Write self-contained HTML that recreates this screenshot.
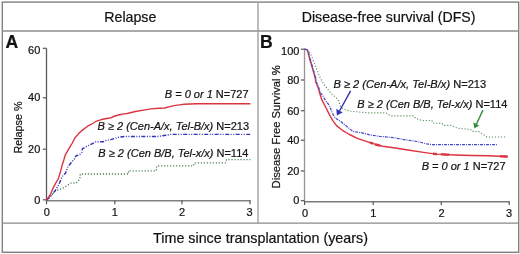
<!DOCTYPE html>
<html><head><meta charset="utf-8"><style>
html,body{margin:0;padding:0;background:#fff;}
body{width:520px;height:254px;overflow:hidden;}
svg{display:block;will-change:transform;}
text{stroke:#1a1a1a;stroke-width:0.22px;font-family:"Liberation Sans",sans-serif;}
</style></head><body>
<svg width="520" height="254" viewBox="0 0 520 254">
<rect x="2.3" y="2.1" width="516.4" height="250.2" fill="none" stroke="#808080" stroke-width="1.4"/>
<line x1="2.3" y1="31" x2="518.7" y2="31" stroke="#8e8e8e" stroke-width="1.4"/>
<line x1="2.3" y1="223.1" x2="518.7" y2="223.1" stroke="#8a8a8a" stroke-width="1.4"/>
<line x1="258" y1="2.1" x2="258" y2="223.1" stroke="#a0a0a0" stroke-width="1.4"/>
<text x="130.3" y="21.8" font-size="14.2" text-anchor="middle" fill="#111">Relapse</text>
<text x="388.6" y="21.7" font-size="14.15" text-anchor="middle" fill="#111">Disease-free survival (DFS)</text>
<text x="260.5" y="243.4" font-size="14.3" text-anchor="middle" fill="#111">Time since transplantation (years)</text>
<text x="5.4" y="47.6" font-size="17.6" font-weight="bold" fill="#111">A</text>
<text x="260" y="47.6" font-size="17.6" font-weight="bold" fill="#111">B</text>
<path d="M46.5 48.3 V200.8" fill="none" stroke="#5a5a5a" stroke-width="1.3"/>
<path d="M46 200.8 H250.6" fill="none" stroke="#808080" stroke-width="1.4"/>
<line x1="42.8" y1="48.3" x2="46.5" y2="48.3" stroke="#555" stroke-width="1.2"/>
<line x1="42.8" y1="97.8" x2="46.5" y2="97.8" stroke="#555" stroke-width="1.2"/>
<line x1="42.8" y1="149.2" x2="46.5" y2="149.2" stroke="#555" stroke-width="1.2"/>
<line x1="42.8" y1="199.8" x2="46.5" y2="199.8" stroke="#555" stroke-width="1.2"/>
<line x1="46.5" y1="200.6" x2="46.5" y2="204.3" stroke="#555" stroke-width="1.2"/>
<line x1="114.8" y1="200.6" x2="114.8" y2="204.3" stroke="#555" stroke-width="1.2"/>
<line x1="181.9" y1="200.6" x2="181.9" y2="204.3" stroke="#555" stroke-width="1.2"/>
<line x1="250" y1="200.6" x2="250" y2="204.3" stroke="#555" stroke-width="1.2"/>
<text x="40.3" y="54.4" font-size="11" text-anchor="end" fill="#111">60</text>
<text x="40.3" y="101.4" font-size="11" text-anchor="end" fill="#111">40</text>
<text x="40.3" y="152.7" font-size="11" text-anchor="end" fill="#111">20</text>
<text x="40.3" y="203.9" font-size="11" text-anchor="end" fill="#111">0</text>
<text x="46.7" y="215.6" font-size="11" text-anchor="middle" fill="#111">0</text>
<text x="114.9" y="215.6" font-size="11" text-anchor="middle" fill="#111">1</text>
<text x="182" y="215.6" font-size="11" text-anchor="middle" fill="#111">2</text>
<text x="249.5" y="215.6" font-size="11" text-anchor="middle" fill="#111">3</text>
<text transform="translate(21.7,127.5) rotate(-90)" font-size="10.8" text-anchor="middle" fill="#111">Relapse %</text>
<path d="M304.5 49.2 V201.8" fill="none" stroke="#959595" stroke-width="1.3"/>
<path d="M304 201.8 H509.6" fill="none" stroke="#7c7c7c" stroke-width="1.4"/>
<line x1="300.8" y1="49.2" x2="304.4" y2="49.2" stroke="#555" stroke-width="1.2"/>
<line x1="300.8" y1="80" x2="304.4" y2="80" stroke="#555" stroke-width="1.2"/>
<line x1="300.8" y1="110.7" x2="304.4" y2="110.7" stroke="#555" stroke-width="1.2"/>
<line x1="300.8" y1="140.2" x2="304.4" y2="140.2" stroke="#555" stroke-width="1.2"/>
<line x1="300.8" y1="171" x2="304.4" y2="171" stroke="#555" stroke-width="1.2"/>
<line x1="300.8" y1="200.7" x2="304.4" y2="200.7" stroke="#555" stroke-width="1.2"/>
<line x1="304.6" y1="201.6" x2="304.6" y2="205" stroke="#555" stroke-width="1.2"/>
<line x1="373.2" y1="201.6" x2="373.2" y2="205" stroke="#555" stroke-width="1.2"/>
<line x1="441.3" y1="201.6" x2="441.3" y2="205" stroke="#555" stroke-width="1.2"/>
<line x1="509.2" y1="201.6" x2="509.2" y2="205" stroke="#555" stroke-width="1.2"/>
<text x="299.4" y="54.5" font-size="11" text-anchor="end" fill="#111">100</text>
<text x="299.4" y="83.6" font-size="11" text-anchor="end" fill="#111">80</text>
<text x="299.4" y="114.5" font-size="11" text-anchor="end" fill="#111">60</text>
<text x="299.4" y="143.9" font-size="11" text-anchor="end" fill="#111">40</text>
<text x="299.4" y="174.5" font-size="11" text-anchor="end" fill="#111">20</text>
<text x="299.4" y="203.9" font-size="11" text-anchor="end" fill="#111">0</text>
<text x="305" y="216.6" font-size="11" text-anchor="middle" fill="#111">0</text>
<text x="373.3" y="216.6" font-size="11" text-anchor="middle" fill="#111">1</text>
<text x="441.6" y="216.6" font-size="11" text-anchor="middle" fill="#111">2</text>
<text x="509" y="216.6" font-size="11" text-anchor="middle" fill="#111">3</text>
<text transform="translate(280,126.9) rotate(-90)" font-size="11.25" text-anchor="middle" fill="#111">Disease Free Survival %</text>
<polyline points="46.5,200.3 48.7,198.3 52.5,194.1 55.4,190.6 59.1,189.8 62.0,188.5 65.0,187.0 68.0,185.0 70.5,183.2 76.3,183.2 78.6,180.4 80.2,177.3 80.2,174.0 128.5,174.0 128.5,170.8 156.3,170.8 156.8,165.8 193.5,165.8 194.3,162.8 225.5,162.8 226.5,159.6 250.4,159.6" fill="none" stroke="#4a8250" stroke-width="1.3" stroke-linejoin="round" stroke-dasharray="1.2 1.8"/>
<polyline points="46.5,200.3 48.7,198.3 52.5,194.1 55.4,190.3 57.7,186.5 59.6,182.7 61.5,178.0 63.0,175.5 65.5,173.2 68.0,166.6 71.3,162.5 73.8,160.0 75.9,156.0 79.4,154.8 81.8,152.4 82.4,148.9 85.3,147.1 88.9,145.3 92.4,143.6 96.0,141.8 103.0,141.8 106.2,140.4 112.3,139.2 118.5,137.3 124.6,136.5 158.5,136.5 161.5,135.8 167.7,135.0 170.8,134.4 250.4,134.4" fill="none" stroke="#3030b8" stroke-width="1.4" stroke-linejoin="round" stroke-dasharray="4 1.5 1 1.5 1 1.5"/>
<polyline points="46.5,200.3 47.3,198.8 50.6,194.1 53.0,188.4 55.4,183.7 58.2,179.0 60.5,171.6 62.2,165.0 63.8,160.0 65.3,154.8 68.8,148.9 72.3,143.0 74.7,138.3 78.2,134.1 81.8,130.6 87.6,126.2 93.5,123.0 95.9,121.3 100.6,119.8 105.3,118.7 111.2,117.7 114.8,116.0 119.5,114.8 124.0,113.9 127.1,113.5 135.3,111.5 143.6,110.1 150.7,108.9 159.0,108.2 164.9,108.0 169.6,106.6 175.5,105.4 179.6,104.9 184.2,104.3 196.5,103.8 250.4,103.8" fill="none" stroke="#dc3340" stroke-width="1.4" stroke-linejoin="round"/>
<polyline points="304.4,49.2 306.5,49.6 307.5,50.6 309.9,59.8 311.7,65.7 313.4,71.6 315.2,78.0 315.8,81.9 318.2,87.8 319.9,93.7 321.7,99.6 322.4,100.9 326.0,107.8 329.5,114.9 333.0,120.8 336.5,125.6 342.4,130.3 349.5,134.5 357.8,138.6 367.2,141.6 376.3,144.7 382.6,146.3 393.6,147.8 409.4,150.2 425.1,152.6 436.1,154.1 455.7,155.0 471.5,155.5 487.2,155.8 499.8,156.3 508.0,156.6" fill="none" stroke="#dc3340" stroke-width="1.4" stroke-linejoin="round"/>
<polyline points="304.4,49.2 307.0,49.5 309.5,52.0 311.1,55.1 313.4,61.0 315.8,66.9 318.2,72.8 319.3,76.0 321.7,80.7 324.7,85.4 327.6,89.0 331.2,93.7 335.9,97.3 338.8,100.8 340.2,106.0 343.5,109.2 350.4,111.2 360.8,112.1 368.8,112.9 386.1,112.9 388.4,114.4 390.7,115.8 413.5,115.8 415.8,118.4 419.2,119.5 421.5,120.5 431.9,120.5 433.1,123.0 442.3,123.6 443.4,125.3 451.5,125.3 454.6,127.2 459.2,128.4 470.8,129.5 471.9,131.3 478.8,131.6 481.1,133.0 484.6,135.3 486.9,137.0 506.5,137.0" fill="none" stroke="#4f8a52" stroke-width="1.15" stroke-linejoin="round" stroke-dasharray="1.1 1.9"/>
<polyline points="304.4,49.2 306.8,49.5 308.0,50.8 310.4,59.8 312.2,65.7 313.9,71.6 315.8,78.0 316.4,81.9 318.8,87.8 320.2,92.5 322.9,96.0 325.8,100.8 328.9,104.9 330.7,109.0 333.3,115.0 335.3,118.0 341.3,122.0 347.2,126.8 353.0,131.5 361.3,132.7 369.6,134.8 379.4,136.3 393.6,137.6 401.5,139.2 417.2,141.5 426.7,143.9 433.0,144.7 496.9,144.7" fill="none" stroke="#4646c8" stroke-width="1.2" stroke-linejoin="round" stroke-dasharray="3 1 1 1"/>
<polyline points="370.0,142.6 370.5,142.7 371.0,142.9 371.5,143.1 372.0,143.2 372.5,143.4 373.0,143.6" fill="none" stroke="#dc3340" stroke-width="2.4"/>
<polyline points="375.0,144.3 375.8,144.5 376.7,144.8 377.5,145.0 378.3,145.2 379.2,145.4 380.0,145.6" fill="none" stroke="#dc3340" stroke-width="2.4"/>
<polyline points="433.0,153.7 433.7,153.8 434.3,153.9 435.0,153.9 435.7,154.0 436.3,154.1 437.0,154.1" fill="none" stroke="#dc3340" stroke-width="2.4"/>
<polyline points="441.0,154.3 442.3,154.4 443.7,154.4 445.0,154.5 446.3,154.6 447.7,154.6 449.0,154.7" fill="none" stroke="#dc3340" stroke-width="2.4"/>
<polyline points="500.0,156.3 501.2,156.4 502.5,156.4 503.8,156.4 505.0,156.5 506.2,156.5 507.5,156.6" fill="none" stroke="#dc3340" stroke-width="2.4"/>
<line x1="350.6" y1="90.8" x2="339.5" y2="111" stroke="#3030b8" stroke-width="1.4"/>
<polygon points="336.9,115.6 336.3,108.8 342.6,112.4" fill="#3030b8"/>
<line x1="482.9" y1="110.1" x2="476.3" y2="124.5" stroke="#358a40" stroke-width="1.4"/>
<polygon points="474.4,128.6 473.3,122.2 479.2,125.4" fill="#358a40"/>
<text x="248.6" y="97.9" font-size="11" text-anchor="end" fill="#111"><tspan font-style="italic">B = 0 or 1</tspan> N=727</text>
<text x="249.0" y="130.0" font-size="11" text-anchor="end" fill="#111"><tspan font-style="italic">B ≥ 2 (Cen-A/x, Tel-B/x)</tspan> N=213</text>
<text x="248.4" y="157.2" font-size="11" text-anchor="end" fill="#111"><tspan font-style="italic">B ≥ 2 (Cen B/B, Tel-x/x)</tspan> N=114</text>
<text x="486.2" y="87.7" font-size="11.1" text-anchor="end" fill="#111"><tspan font-style="italic">B ≥ 2 (Cen-A/x, Tel-B/x)</tspan> N=213</text>
<text x="507.4" y="107.8" font-size="11" text-anchor="end" fill="#111"><tspan font-style="italic">B ≥ 2 (Cen B/B, Tel-x/x)</tspan> N=114</text>
<text x="505.5" y="170.0" font-size="11" text-anchor="end" fill="#111"><tspan font-style="italic">B = 0 or 1</tspan> N=727</text>
</svg>
</body></html>
